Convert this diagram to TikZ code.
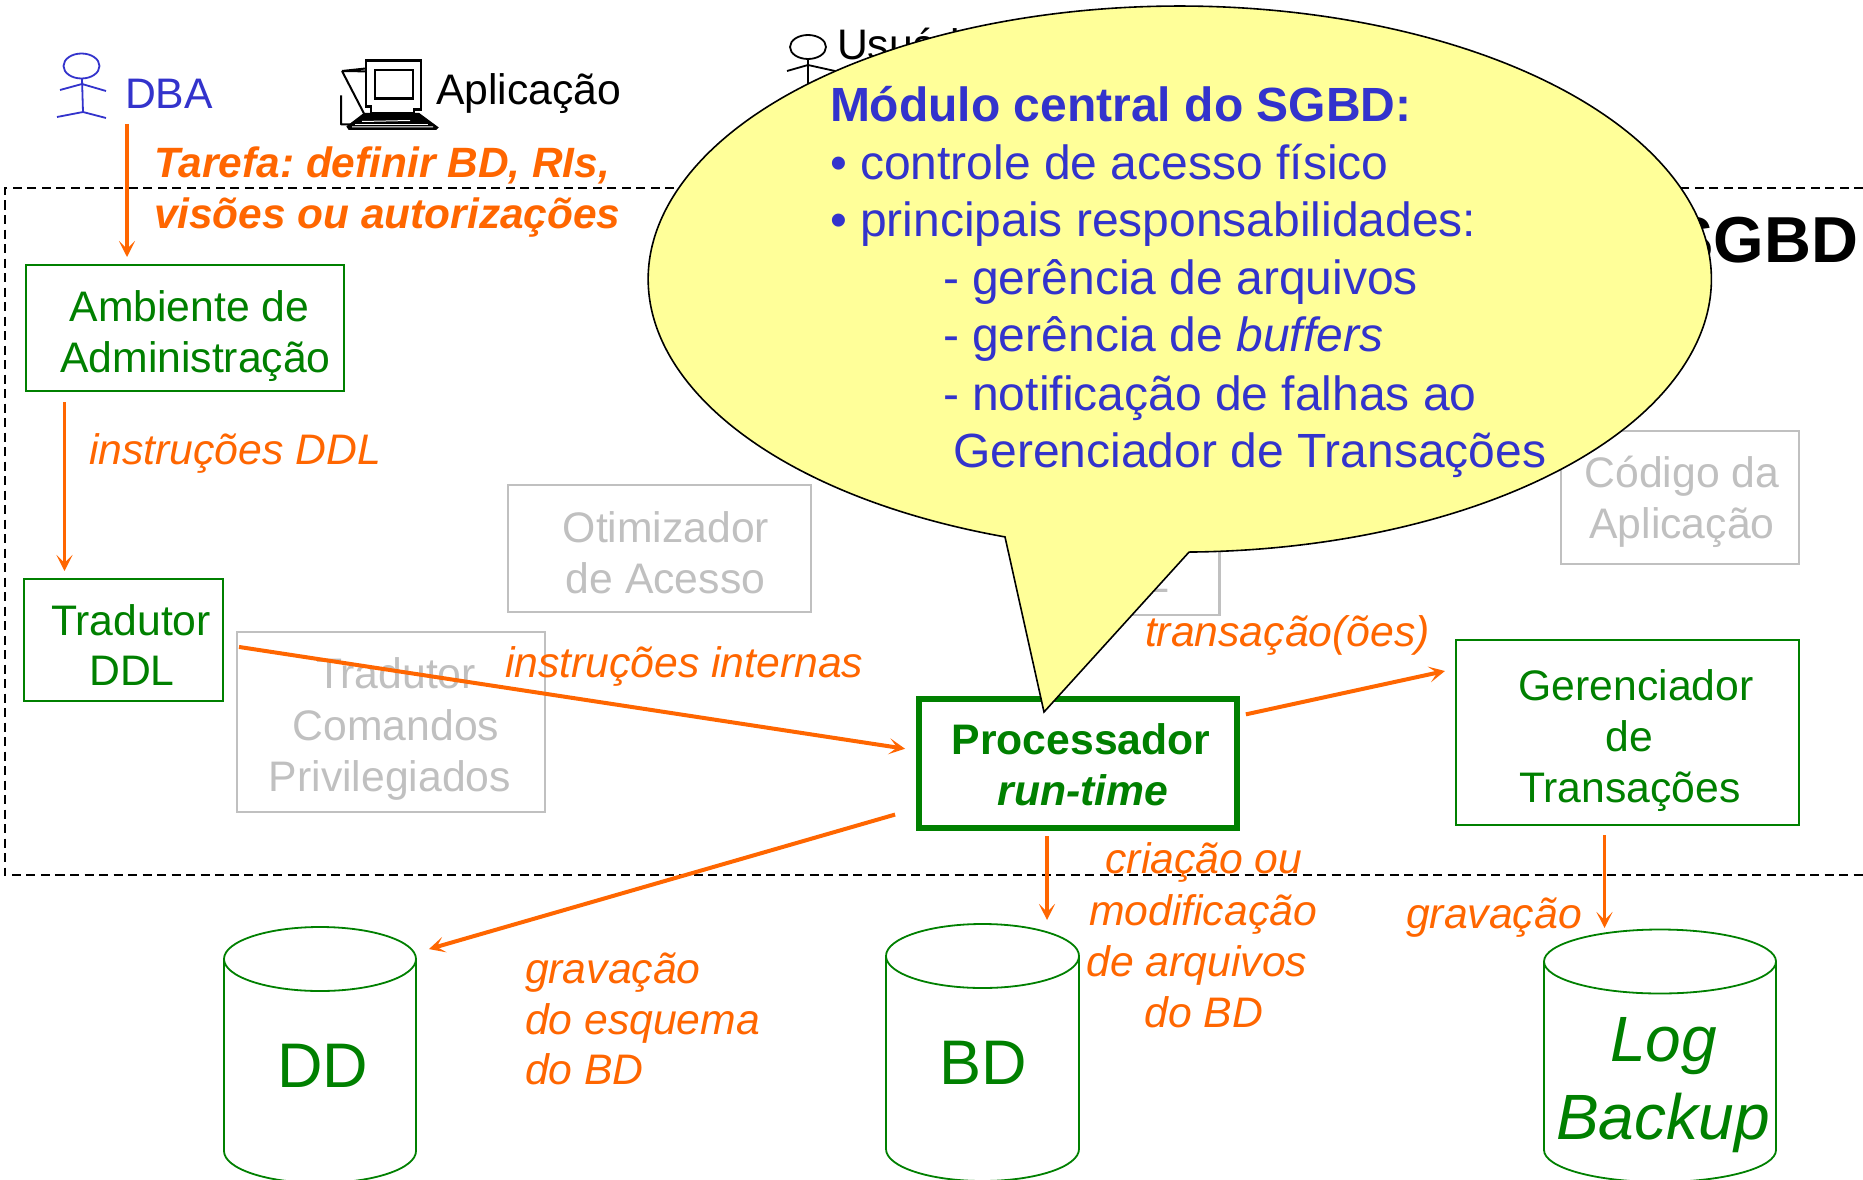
\documentclass[tikz,border=0pt]{standalone}
\usepackage{fontspec}
\setmainfont{Liberation Sans}
\usetikzlibrary{arrows.meta,calc}
\definecolor{dbablue}{HTML}{3333CC}
\definecolor{flowc}{HTML}{FF6600}
\definecolor{boxgreen}{HTML}{008000}
\definecolor{ghost}{HTML}{C0C0C0}
\definecolor{balloon}{HTML}{FFFF99}
\newcommand{\fs}[1]{\fontsize{#1}{#1}\selectfont}
\frenchspacing
\tikzset{
  lab/.style={inner sep=0pt,outer sep=0pt,anchor=base,font=\fs{42.7}},
  labw/.style={lab,anchor=base west},
  greentxt/.style={lab,text=boxgreen},
  ghosttxt/.style={lab,text=ghost},
  flowtxt/.style={labw,text=flowc,font=\fs{42.7}\itshape},
  flowtxtc/.style={lab,text=flowc,font=\fs{42.7}\itshape},
  balltxt/.style={labw,text=dbablue,font=\fs{48}},
  greenbox/.style={draw=boxgreen,line width=2.5pt,inner sep=0pt,outer sep=0pt},
  ghostbox/.style={draw=ghost,line width=2.5pt,inner sep=0pt,outer sep=0pt},
  cyl/.style={inner sep=0pt,outer sep=0pt},
  cylline/.style={draw=boxgreen,line width=1.8pt},
  flow/.style={draw=flowc,line width=3.6pt,-{Stealth[length=16pt,width=16pt,inset=8pt]}},
  stick/.style={line width=1.8pt},
}
\begin{document}
\begin{tikzpicture}[x=1pt,y=-1pt]
\useasboundingbox (0,0) rectangle (1863,1180);
\fill[white] (0,0) rectangle (1863,1180);

% system boundary
\draw[black,line width=2pt,dash pattern=on 9pt off 5.5pt]
  (1863,188) -- (5,188) -- (5,875) -- (1863,875);

% actors
\draw[dbablue,stick] (81.5,66) ellipse [x radius=18,y radius=12.5];
\draw[dbablue,stick] (82,78.5) -- (83,112) (60,90) -- (82,84) -- (106,91) (57,117) -- (83,112) -- (106,118);
\node[labw,text=dbablue] (dbalabel) at (125,109) {DBA};

\node[labw] (aplic) at (436,105) {Aplicação};
% computer icon
\begin{scope}[shift={(0,1.5)}]
\draw[black,line width=2pt,line join=round]
  (342,69.5) -- (375,66) (342,69.5) -- (373,70) (342,69.5) -- (364,112)
  (373,70) -- (373,112)
  (341,94) -- (341,123) -- (350,123);
\draw[black,line width=2.2pt,fill=white]
  (366,105) -- (366,59) -- (421,59) -- (421,108) -- (414,108) -- (414,112) -- (371,112) -- (371,105) -- cycle;
\draw[black,line width=2.2pt,fill=white] (375,68.5) rectangle (413,97);
\filldraw[black,line width=1pt] (364,112) -- (419,112) -- (438,126) -- (436,128) -- (349,128) -- (347,125) -- cycle;
\draw[white,line width=1pt] (352,125.5) -- (433,125.5) (362,120) -- (410,119);
\draw[white,line width=.8pt] (355,123) -- (428,123);
\end{scope}

\draw[black,stick] (808,47) ellipse [x radius=18,y radius=12];
\draw[black,stick] (808,59) -- (808,110) (787,71) -- (808,65) -- (835,71);
\node[labw] (usuario) at (837,60) {Usuário};

% title behind balloon
\node[lab,anchor=base east,font=\fs{65}\bfseries] (sgbd) at (1858,262) {SGBD};

% faded modules
\node[ghostbox,minimum width=303pt,minimum height=127pt] (otim) at (659.5,548.5) {};
\node[ghosttxt] (otima) at (666,542) {Otimizador};
\node[ghosttxt] (otimb) at (665.5,593) {de Acesso};
\node[ghostbox,minimum width=308pt,minimum height=180pt] (priv) at (391,722) {};
\node[ghosttxt] (priva) at (396,688) {Tradutor};
\node[ghosttxt] (privb) at (396,740) {Comandos};
\node[ghosttxt] (privc) at (390,791) {Privilegiados};
\node[ghostbox,minimum width=159pt,minimum height=115pt] (dml) at (1140,557.5) {};
\node[ghosttxt,anchor=base east] (dmltxt) at (1169,592) {DML};
\node[ghostbox,minimum width=238pt,minimum height=133pt] (cod) at (1680,497.5) {};
\node[ghosttxt] (coda) at (1682,487) {Código da};
\node[ghosttxt] (codb) at (1682,538) {Aplicação};

% green modules
\node[greenbox,minimum width=318pt,minimum height=126pt] (amb) at (185,328) {};
\node[greentxt] (amba) at (189.5,321) {Ambiente de};
\node[greentxt] (ambb) at (195.5,372) {Administração};
\node[greenbox,minimum width=199pt,minimum height=122pt] (ddl) at (123.5,640) {};
\node[greentxt] (ddla) at (131,635) {Tradutor};
\node[greentxt] (ddlb) at (132,685) {DDL};
\node[draw=boxgreen,line width=6pt,inner sep=0pt,outer sep=0pt,minimum width=318pt,minimum height=129pt] (proc) at (1077.5,763.5) {};
\node[greentxt,font=\fs{42.7}\bfseries] (proca) at (1081,754) {Processador};
\node[greentxt,font=\fs{42.7}\bfseries\itshape] (procb) at (1083,805) {run-time};
\node[greenbox,minimum width=343pt,minimum height=185pt] (ger) at (1627.5,732.5) {};
\node[greentxt] (gera) at (1636,700) {Gerenciador};
\node[greentxt] (gerb) at (1629.5,751) {de};
\node[greentxt] (gerc) at (1630,802.5) {Transações};

% stores
\node[cyl,minimum width=192pt,minimum height=256pt] (dd) at (320,1055) {};
\node[cyl,minimum width=193pt,minimum height=256pt] (bd) at (982.5,1052) {};
\node[cyl,minimum width=232pt,minimum height=252pt] (logb) at (1660,1056) {};
\draw[cylline] (224,959) arc [start angle=180,end angle=-180,x radius=96,y radius=32]
  (224,959) -- (224,1151) arc [start angle=180,end angle=0,x radius=96,y radius=32] -- (416,959);
\draw[cylline] (886,956) arc [start angle=180,end angle=-180,x radius=96.5,y radius=32]
  (886,956) -- (886,1149) arc [start angle=180,end angle=0,x radius=96.5,y radius=32] -- (1079,956);
\draw[cylline] (1544,961.5) arc [start angle=180,end angle=-180,x radius=116,y radius=32]
  (1544,961.5) -- (1544,1150) arc [start angle=180,end angle=0,x radius=116,y radius=32] -- (1776,961.5);
\node[greentxt,font=\fs{63}] (ddt) at (323,1087) {DD};
\node[greentxt,font=\fs{63}] (bdt) at (983,1084) {BD};
\node[greentxt,font=\fs{64}\itshape] (logt) at (1663.5,1061.5) {Log};
\node[greentxt,font=\fs{64}\itshape] (bakt) at (1663,1139) {Backup};

% connectors
\coordinate (dbaout) at ($(dbalabel.south west)+(2,15)$);
\draw[flow,shorten >=8pt] (dbaout) -- (dbaout |- amb.north);
\coordinate (ambout) at ($(amb.south)+(-120.5,0)$);
\draw[flow,shorten <=11pt,shorten >=8pt] (ambout) -- (ambout |- ddl.north);
\draw[flow,line width=4pt,shorten <=16.2pt,shorten >=13.6pt] ($(ddl.east)+(0,4.5)$) -- ($(proc.west)+(0,-12.7)$);
\draw[flow,line width=4pt,shorten <=24.4pt,shorten >=13.5pt] ($(proc.west)+(0,44.3)$) -- ($(dd.east)+(0,-102.2)$);
\draw[flow,line width=4pt,shorten <=9.6pt,shorten >=11.3pt] ($(proc.east)+(0,-47.1)$) -- ($(ger.west)+(0,-63.9)$);
\coordinate (procout) at ($(proc.south)+(-30.5,0)$);
\draw[flow,shorten <=8.4pt,shorten >=4pt] (procout) -- (procout |- bd.north);
\coordinate (gerout) at ($(ger.south)+(-23,0)$);
\draw[flow,line width=3pt,shorten <=10pt,shorten >=2pt] (gerout) -- (gerout |- logb.north);

% connector labels
\node[labw,text=flowc,font=\fs{42.4}\bfseries\itshape] (taska) at (154.5,177) {Tarefa: definir BD, RIs,};
\node[labw,text=flowc,font=\fs{42.4}\bfseries\itshape] (taskb) at (154,228) {visões ou autorizações};
\node[flowtxt] (iddl) at (89,464) {instruções DDL};
\node[flowtxt] (iint) at (505,677) {instruções internas};
\node[flowtxt] (grava) at (525,983) {gravação};
\node[flowtxt] (gravb) at (525,1034) {do esquema};
\node[flowtxt] (gravc) at (525,1084) {do BD};
\node[flowtxt] (trans) at (1145,646) {transação(ões)};
\node[flowtxtc] (cria) at (1204,873.5) {criação ou};
\node[flowtxtc] (crib) at (1203,925) {modificação};
\node[flowtxtc] (cric) at (1197,976.5) {de arquivos};
\node[flowtxtc] (crid) at (1204,1027) {do BD};
\node[flowtxtc] (grlog) at (1494,928) {gravação};

% balloon
\draw[black,line width=1.6pt,fill=balloon,line join=miter]
  (1005,536.9) arc [start angle=109.2,end angle=449,x radius=531.5,y radius=273]
  -- (1044,712) -- cycle;

\node[labw,text=dbablue,font=\fs{48}\bfseries] (ba) at (830,122) {Módulo central do SGBD:};
\node[balltxt] (bb) at (830,179) {• controle de acesso físico};
\node[balltxt] (bc) at (830,236.5) {• principais responsabilidades:};
\node[balltxt] (bd1) at (943,294) {- gerência de arquivos};
\node[balltxt] (be) at (943,351.5) {- gerência de {\itshape buffers}};
\node[balltxt] (bf) at (943,410.5) {- notificação de falhas ao};
\node[balltxt] (bg) at (953,467) {Gerenciador de Transações};
\end{tikzpicture}
\end{document}
